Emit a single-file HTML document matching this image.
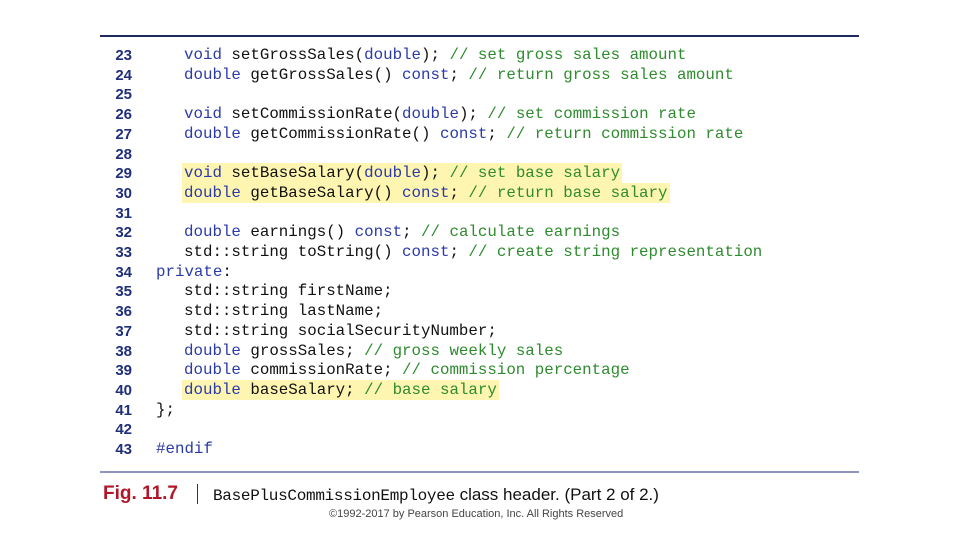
<!DOCTYPE html>
<html><head><meta charset="utf-8"><style>
body{margin:0;width:960px;height:540px;background:#fff;position:relative;overflow:hidden;font-family:"Liberation Sans",sans-serif}
.rule{position:absolute;left:100px;width:759px}
.ln{position:absolute;left:110px;font:bold 15px "Liberation Sans",sans-serif;color:#1f2f7a;width:22px;text-align:right}
.c{position:absolute;font:15.8px/20px "Liberation Mono",monospace;white-space:pre;color:#111}
.k{color:#2a3aa8}.m{color:#2e8b2e}
.hl{background:#fdf5b0}
</style></head><body>
<div class="rule" style="top:35px;height:2px;background:#1f2a5c"></div>
<div class="rule" style="top:471px;height:2px;background:#8c95c0"></div>
<div id="code"></div>
<div style="position:absolute;left:103px;top:483px;font:bold 19px 'Liberation Sans',sans-serif;color:#b0182a">Fig. 11.7</div>
<div style="position:absolute;left:197px;top:484px;width:1px;height:20px;background:#333"></div>
<div style="position:absolute;left:213px;top:485px;font:16px 'Liberation Mono',monospace;color:#111;letter-spacing:-0.3px">BasePlusCommissionEmployee<span style="font-family:'Liberation Sans',sans-serif;font-size:17px;letter-spacing:0"> class header. (Part 2 of 2.)</span></div>
<div style="position:absolute;left:329px;top:508px;font:11px 'Liberation Sans',sans-serif;color:#444">©1992-2017 by Pearson Education, Inc. All Rights Reserved</div>
<script>
var L=[
[23,1,'<span class="k">void</span> setGrossSales(<span class="k">double</span>); <span class="m">// set gross sales amount</span>'],
[24,1,'<span class="k">double</span> getGrossSales() <span class="k">const</span>; <span class="m">// return gross sales amount</span>'],
[25,1,''],
[26,1,'<span class="k">void</span> setCommissionRate(<span class="k">double</span>); <span class="m">// set commission rate</span>'],
[27,1,'<span class="k">double</span> getCommissionRate() <span class="k">const</span>; <span class="m">// return commission rate</span>'],
[28,1,''],
[29,1,'<span class="k">void</span> setBaseSalary(<span class="k">double</span>); <span class="m">// set base salary</span>',1],
[30,1,'<span class="k">double</span> getBaseSalary() <span class="k">const</span>; <span class="m">// return base salary</span>',1],
[31,1,''],
[32,1,'<span class="k">double</span> earnings() <span class="k">const</span>; <span class="m">// calculate earnings</span>'],
[33,1,'std::string toString() <span class="k">const</span>; <span class="m">// create string representation</span>'],
[34,0,'<span class="k">private</span>:'],
[35,1,'std::string firstName;'],
[36,1,'std::string lastName;'],
[37,1,'std::string socialSecurityNumber;'],
[38,1,'<span class="k">double</span> grossSales; <span class="m">// gross weekly sales</span>'],
[39,1,'<span class="k">double</span> commissionRate; <span class="m">// commission percentage</span>'],
[40,1,'<span class="k">double</span> baseSalary; <span class="m">// base salary</span>',1],
[41,0,'};'],
[42,0,''],
[43,0,'<span class="k">#endif</span>']];
var h='';
L.forEach(function(r,i){var y=45+i*19.7;
h+='<div class="ln" style="top:'+(y+2)+'px">'+r[0]+'</div>';
h+='<div class="c'+(r[3]?' hl':'')+'" style="top:'+y+'px;left:'+(r[1]?184:156)+'px;'+(r[3]?'padding:0 2px;margin-left:-2px':'')+'">'+r[2]+'</div>';});
document.getElementById('code').innerHTML=h;
</script>
</body></html>
